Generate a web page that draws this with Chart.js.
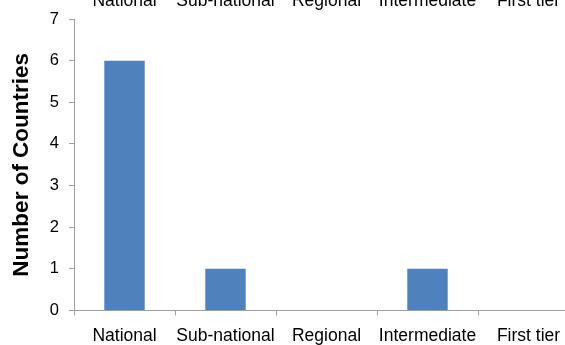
<!DOCTYPE html>
<html>
<head>
<meta charset="utf-8">
<script src="https://cdn.jsdelivr.net/npm/chart.js@4"></script>
<style>
html,body{margin:0;padding:0;background:#fff;}
#clip{width:565px;height:345px;overflow:hidden;position:relative;background:#fff;}
#wrap{position:absolute;left:0;top:-10px;width:600px;height:355px;}
</style>
</head>
<body>
<div id="clip"><div id="wrap"><canvas id="c" width="600" height="355"></canvas></div></div>
<script>
const categories = ["National", "Sub-national", "Regional", "Intermediate", "First tier"];
const countries = [6, 1, 0, 1, 0];
const yTicks = [0, 1, 2, 3, 4, 5, 6, 7];
const yTitle = "Number of Countries";

const FONT = "'Liberation Sans', Arial, sans-serif";
const AXIS = "#a0a0a0";

new Chart(document.getElementById('c'), {
  type: 'bar',
  data: {
    labels: categories,
    datasets: [{
      data: countries,
      backgroundColor: '#4f81bd',
      borderWidth: 0,
      barPercentage: 0.4,
      categoryPercentage: 1.0,
      xAxisID: 'x'
    }]
  },
  options: {
    responsive: false,
    devicePixelRatio: 1,
    animation: false,
    layout: { padding: { left: 0, right: 21, top: 0, bottom: 0 } },
    plugins: { legend: { display: false }, tooltip: { enabled: false } },
    scales: {
      x: {
        type: 'category',
        position: 'bottom',
        offset: true,
        grid: { drawOnChartArea: false, offset: true, tickLength: 5, color: AXIS },
        border: { color: AXIS, width: 1 },
        ticks: { color: '#000', font: { family: FONT, size: 17.5 }, padding: 10, maxRotation: 0, autoSkip: false },
        afterFit: s => { s.height = 34.5; }
      },
      x2: {
        type: 'category',
        position: 'top',
        labels: categories,
        offset: true,
        grid: { display: false, drawTicks: false },
        border: { display: false },
        ticks: { color: '#000', font: { family: FONT, size: 17.5 }, padding: 7.5, maxRotation: 0, autoSkip: false },
        afterFit: s => { s.height = 29; }
      },
      y: {
        min: 0,
        max: 7,
        afterBuildTicks: s => { s.ticks = yTicks.map(v => ({ value: v })); },
        grid: { drawOnChartArea: false, tickLength: 5, color: AXIS },
        border: { color: AXIS, width: 1 },
        ticks: { color: '#000', font: { family: FONT, size: 16.5 }, padding: 10 },
        title: { display: true, text: yTitle, color: '#000', font: { family: FONT, size: 22.5, weight: 'bold' }, padding: { top: 8, bottom: 0 } },
        afterFit: s => { s.width = 74; }
      }
    }
  }
});
</script>
</body>
</html>
